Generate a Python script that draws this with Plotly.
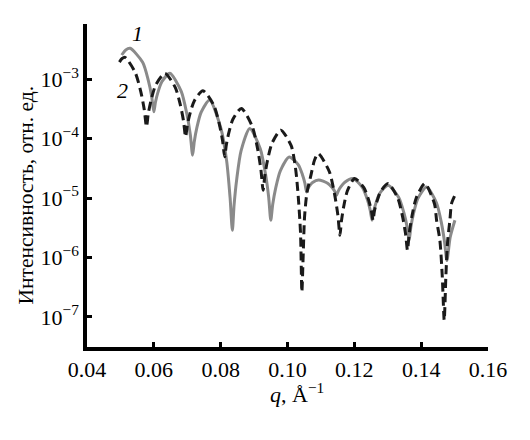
import numpy as np
import plotly.graph_objects as go

# Curve 1 (gray, solid): q [1/Å] and log10(intensity)
q1 = [
    0.0504, 0.0516, 0.0529,
    0.05665, 0.05833, 0.05933, 0.0600,
    0.06048, 0.0612, 0.0624, 0.0648,
    0.0682, 0.0699, 0.07092, 0.0716,
    0.07211, 0.07288, 0.07415, 0.0767,
    0.0801, 0.0818, 0.08282, 0.0835,
    0.08402, 0.0848, 0.0861, 0.0887,
    0.09185, 0.09343, 0.09437, 0.0950,
    0.09557, 0.09643, 0.09785, 0.1005,
    0.1032, 0.10445, 0.1052, 0.1057,
    0.10606, 0.1066, 0.1075, 0.1093,
    0.1120, 0.11335, 0.11416, 0.1147,
    0.11519, 0.11593, 0.11715, 0.1196,
    0.12245, 0.12388, 0.12473, 0.1253,
    0.12578, 0.1265, 0.1277, 0.1301,
    0.13325, 0.13483, 0.13577, 0.1364,
    0.13692, 0.1377, 0.1390, 0.1416,
    0.1446, 0.1461, 0.1470, 0.1477,
    0.1487, 0.1501,
]
log_i1 = [
    -2.595, -2.51, -2.483,
    -2.718, -3.017, -3.284, -3.551,
    -3.389, -3.228, -3.046, -2.904,
    -3.207, -3.592, -3.935, -4.279,
    -4.048, -3.817, -3.558, -3.354,
    -3.835, -4.38, -4.995, -5.542,
    -5.114, -4.686, -4.207, -3.830,
    -4.170, -4.602, -4.988, -5.374,
    -5.108, -4.842, -4.544, -4.31,
    -4.439, -4.604, -4.750, -4.897,
    -4.847, -4.796, -4.739, -4.695,
    -4.752, -4.824, -4.889, -4.953,
    -4.883, -4.813, -4.734, -4.672,
    -4.826, -5.023, -5.199, -5.374,
    -5.227, -5.080, -4.915, -4.785,
    -4.989, -5.248, -5.479, -5.710,
    -5.486, -5.262, -5.010, -4.813,
    -5.084, -5.430, -5.739, -6.05,
    -5.655, -5.374,
]

# Curve 2 (black, dashed)
q2 = [
    0.0497, 0.0505, 0.0514,
    0.05445, 0.05613, 0.05713, 0.0578,
    0.05835, 0.05918, 0.06055, 0.0633,
    0.0664, 0.06795, 0.06888, 0.0695,
    0.07002, 0.0708, 0.0721, 0.0747,
    0.07795, 0.07958, 0.08055, 0.0812,
    0.0817, 0.08245, 0.0837, 0.0862,
    0.08945, 0.09108, 0.09205, 0.0927,
    0.09323, 0.09403, 0.09535, 0.0980,
    0.1011, 0.1022, 0.1027, 0.1033, 0.1039, 0.1043,
    0.1047, 0.1051, 0.1058, 0.1070, 0.1081, 0.1092,
    0.1125, 0.1141, 0.11506, 0.1157,
    0.11614, 0.1168, 0.1179, 0.1201,
    0.12285, 0.12423, 0.12505, 0.1256,
    0.1260, 0.12673, 0.12785, 0.1301,
    0.1330, 0.13445, 0.13532, 0.1359,
    0.13642, 0.1372, 0.1385, 0.1411,
    0.1440, 0.1446, 0.1456, 0.1463, 0.1469,
    0.1474, 0.1479, 0.1486, 0.1491, 0.1501,
]
log_i2 = [
    -2.714, -2.655, -2.635,
    -2.892, -3.219, -3.511, -3.803,
    -3.578, -3.354, -3.102, -2.904,
    -3.139, -3.438, -3.704, -3.971,
    -3.778, -3.584, -3.367, -3.197,
    -3.441, -3.753, -4.030, -4.308,
    -4.104, -3.901, -3.672, -3.493,
    -3.796, -4.181, -4.525, -4.869,
    -4.617, -4.364, -4.081, -3.859,
    -4.12, -4.42, -4.64, -5.04, -5.59, -6.58,
    -5.95, -5.32, -4.92, -4.62, -4.36, -4.251,
    -4.554, -4.939, -5.283, -5.626,
    -5.388, -5.149, -4.882, -4.672,
    -4.826, -5.023, -5.199, -5.374,
    -5.22, -5.065, -4.892, -4.756,
    -5.003, -5.318, -5.598, -5.879,
    -5.598, -5.318, -5.003, -4.756,
    -5.10, -5.37, -5.71, -6.3, -7.057,
    -6.3, -5.74, -5.37, -5.09, -4.953,
]

x_ticks = [0.04, 0.06, 0.08, 0.10, 0.12, 0.14, 0.16]
x_tick_labels = ["0.04", "0.06", "0.08", "0.10", "0.12", "0.14", "0.16"]
y_exponents = [-7, -6, -5, -4, -3]
y_tick_labels = ["10<sup>−7</sup>", "10<sup>−6</sup>", "10<sup>−5</sup>",
                 "10<sup>−4</sup>", "10<sup>−3</sup>"]

FONT = "Liberation Serif, Times New Roman, serif"

fig = go.Figure()
fig.add_trace(go.Scatter(
    x=q1, y=np.power(10.0, log_i1), mode="lines",
    line=dict(color="#8a8a8a", width=3, shape="spline", smoothing=0.7),
))
fig.add_trace(go.Scatter(
    x=q2, y=np.power(10.0, log_i2), mode="lines",
    line=dict(color="#1a1a1a", width=3, dash="9px,5px", shape="spline", smoothing=0.7),
))

axis_common = dict(
    showline=True, linecolor="black", linewidth=3.5,
    ticks="inside", ticklen=5, tickwidth=3, tickcolor="black",
    showgrid=False, zeroline=False,
    tickfont=dict(family=FONT, size=22, color="black"),
)
fig.update_xaxes(range=[0.04, 0.16], tickvals=x_ticks, ticktext=x_tick_labels, **axis_common)
fig.update_yaxes(type="log", range=[-7.505, -2.074],
                 tickvals=[10.0 ** e for e in y_exponents], ticktext=y_tick_labels,
                 **axis_common)

# the page body has an 8px margin, so the figure is sized to fit inside 530x440
fig.update_layout(
    width=522, height=432,
    margin=dict(l=79, r=42, t=16, b=93),
    paper_bgcolor="white", plot_bgcolor="white",
    showlegend=False,
    font=dict(family=FONT, size=21, color="black"),
    annotations=[
        dict(text="Интенсивность, отн. ед.", xref="paper", yref="paper",
             x=0, y=0.5, xshift=-62, yshift=-10, textangle=-90,
             showarrow=False, font=dict(family=FONT, size=21.5, color="black"),
             xanchor="center", yanchor="middle"),
        dict(text="<i>q</i>, Å<sup>−1</sup>", xref="paper", yref="paper",
             x=0.5, y=0, xshift=9, yshift=-46, showarrow=False,
             font=dict(family=FONT, size=22, color="black"),
             xanchor="center", yanchor="middle"),
        dict(text="<i>1</i>", x=0.0552, y=-2.226, xref="x", yref="y",
             showarrow=False, font=dict(family=FONT, size=22, color="black")),
        dict(text="<i>2</i>", x=0.0507, y=-3.185, xref="x", yref="y",
             showarrow=False, font=dict(family=FONT, size=22, color="black")),
    ],
)

fig.write_html("out.html")
